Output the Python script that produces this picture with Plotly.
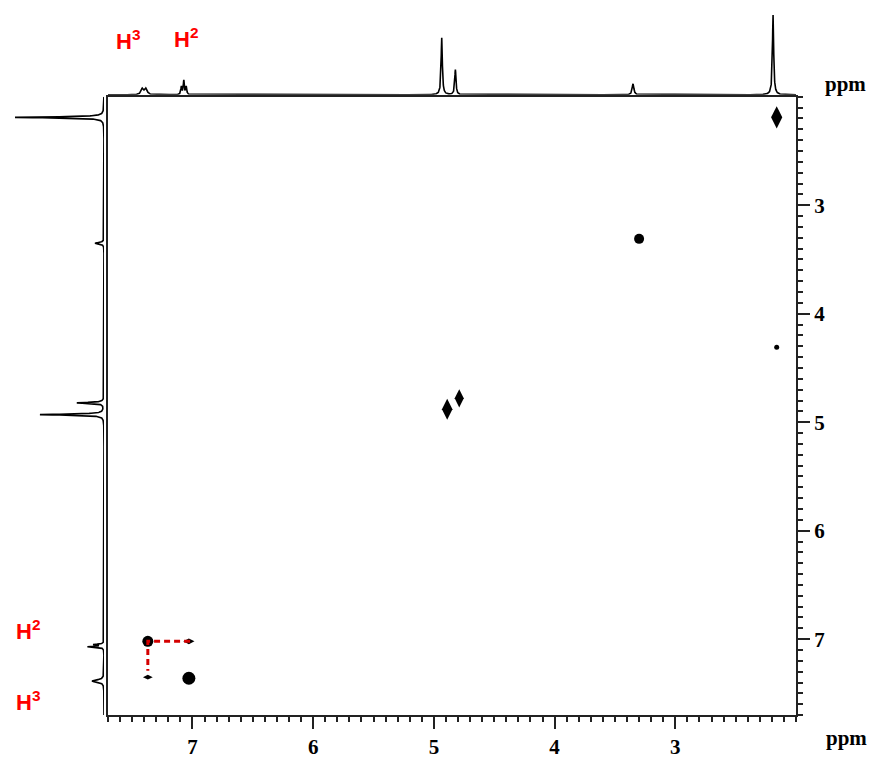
import numpy as np
import plotly.graph_objects as go

W, H = 875, 767          # browser window
OFF = 8                  # default body margin of the html page
FW, FH = W - 2 * OFF, H - 2 * OFF

# ---------------- data ----------------
# 1D projection (top, F2) peaks: position (ppm), intensity, half-width (ppm)
top_ppm    = [7.415, 7.385, 7.092, 7.072, 7.052, 4.935, 4.822, 3.35, 2.19]
top_height = [6, 6, 8, 14, 8, 57, 25, 11, 80]
top_width  = [0.012, 0.012, 0.005, 0.005, 0.005, 0.006, 0.006, 0.008, 0.006]

# 1D projection (left, F1) peaks
left_ppm    = [7.385, 7.07, 7.05, 4.93, 4.822, 3.35, 2.19]
left_height = [12, 16, 10, 64, 27, 9, 89]
left_width  = [0.012, 0.005, 0.005, 0.006, 0.006, 0.008, 0.006]

# 2D cross peaks: F2 (x), F1 (y), marker symbol, size
cp_x    = [2.16, 3.30, 2.16, 4.89, 4.79, 7.03, 7.37, 7.37, 7.03]
cp_y    = [2.19, 3.31, 4.31, 4.88, 4.78, 7.02, 7.02, 7.35, 7.36]
cp_sym  = ["diamond-tall", "circle", "circle", "diamond-tall", "diamond-tall",
           "diamond-wide", "circle", "diamond-wide", "circle"]
cp_size = [16, 10, 5, 15, 13, 8, 11, 7, 13]

# red dashed correlation lines (ppm)
dash_x = [7.02, 7.37, 7.37]
dash_y = [7.02, 7.02, 7.29]

ticks_major = [3, 4, 5, 6, 7]
ppm_range = [7.7, 2.0]

labels_top = [("H<sup>3</sup>", 128, 40), ("H<sup>2</sup>", 186, 38)]
labels_left = [("H<sup>2</sup>", 28, 632), ("H<sup>3</sup>", 28, 703)]


def px(x):
    return (x - OFF) / FW


def py(y):
    return 1 - (y - OFF) / FH


grid = np.arange(2.0, 7.7001, 0.001)


def spectrum(pos, hgt, wid):
    s = np.zeros_like(grid)
    for p, h, w in zip(pos, hgt, wid):
        s += h / (1 + ((grid - p) / w) ** 2)
    return s


top_spec = spectrum(top_ppm, top_height, top_width)
left_spec = spectrum(left_ppm, left_height, left_width)

fig = go.Figure()

# cross peaks
for x, y, s, z in zip(cp_x, cp_y, cp_sym, cp_size):
    fig.add_trace(go.Scatter(x=[x], y=[y], mode="markers", xaxis="x", yaxis="y",
                             marker=dict(symbol=s, size=z, color="black",
                                         line=dict(width=0)),
                             showlegend=False, hoverinfo="skip"))

# red dashed lines
fig.add_trace(go.Scatter(x=dash_x, y=dash_y, mode="lines", xaxis="x", yaxis="y",
                         line=dict(color="#d40000", width=3, dash="6px,4px"),
                         showlegend=False, hoverinfo="skip"))

# top projection
fig.add_trace(go.Scatter(x=grid, y=top_spec, mode="lines", xaxis="x2", yaxis="y2",
                         line=dict(color="black", width=1.6),
                         showlegend=False, hoverinfo="skip"))

# left projection
fig.add_trace(go.Scatter(x=left_spec, y=grid, mode="lines", xaxis="x3", yaxis="y3",
                         line=dict(color="black", width=1.6),
                         showlegend=False, hoverinfo="skip"))

tickfont = dict(family="Liberation Serif", size=21, color="black", weight="bold")
minor_vals = [round(v, 1) for v in np.arange(2.0, 7.71, 0.1)]

x_dom = [px(108), px(796)]
y_dom = [py(717), py(97)]

axis_common = dict(
    range=ppm_range, showgrid=False, zeroline=False,
    showline=True, mirror=True, linecolor="#222", linewidth=2,
    tickmode="array", tickvals=ticks_major, ticks="outside",
    ticklen=12, tickwidth=1.8, tickcolor="#222", tickfont=tickfont,
    minor=dict(tickvals=minor_vals, ticks="outside", ticklen=5,
               tickwidth=1.5, tickcolor="#222", showgrid=False),
)

fig.update_layout(
    width=FW, height=FH,
    margin=dict(l=0, r=0, t=0, b=0),
    paper_bgcolor="white", plot_bgcolor="white",
    xaxis=dict(domain=x_dom, anchor="y", side="bottom", **axis_common),
    yaxis=dict(domain=y_dom, anchor="x", side="right", **axis_common),
    xaxis2=dict(domain=x_dom, range=ppm_range, anchor="y2", visible=False),
    yaxis2=dict(domain=[py(95), py(8)], range=[0, 87], anchor="x2", visible=False),
    xaxis3=dict(domain=[px(8), px(104)], range=[96, 0], anchor="y3", visible=False),
    yaxis3=dict(domain=y_dom, range=ppm_range, anchor="x3", visible=False),
)

annots = []
for t, x, y in labels_top + labels_left:
    annots.append(dict(text=t, x=px(x), y=py(y), xref="paper", yref="paper",
                       showarrow=False, xanchor="center", yanchor="middle",
                       font=dict(family="Liberation Sans", size=22, color="#ff0000",
                                 weight="bold")))
ppmfont = dict(family="Liberation Serif", size=21, color="black", weight="bold")
annots.append(dict(text="ppm", x=px(845), y=py(84), xref="paper", yref="paper",
                   showarrow=False, xanchor="center", yanchor="middle", font=ppmfont))
annots.append(dict(text="ppm", x=px(846), y=py(740), xref="paper", yref="paper",
                   showarrow=False, xanchor="center", yanchor="middle", font=ppmfont))
fig.update_layout(annotations=annots)

fig.write_html("out.html")
